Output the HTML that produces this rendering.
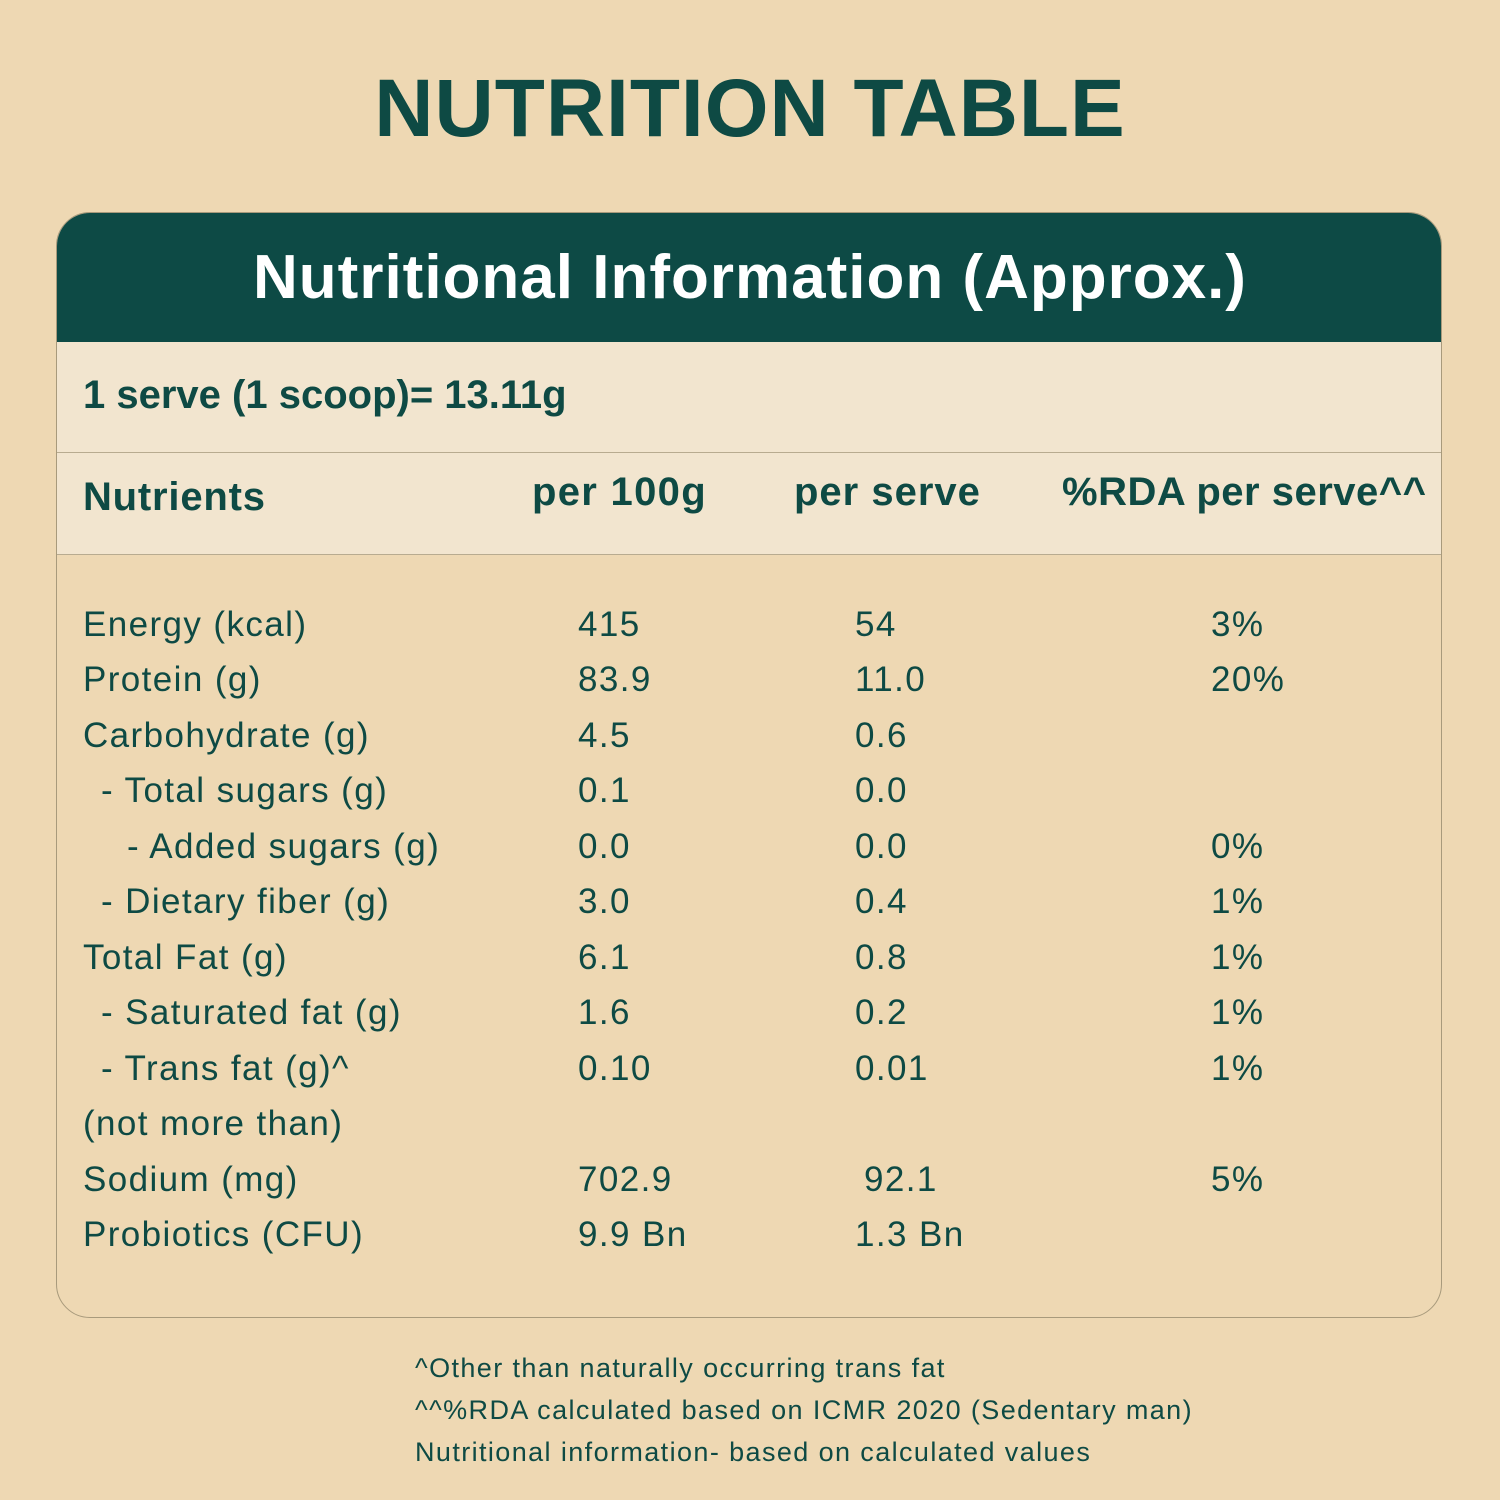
<!DOCTYPE html>
<html><head><meta charset="utf-8"><style>
body{margin:0;width:1500px;height:1500px;background:#eed8b3;font-family:"Liberation Sans",sans-serif;color:#0e4a44;position:relative;overflow:hidden}
.a{position:absolute;white-space:nowrap}
.card{position:absolute;left:56px;top:212px;width:1386px;height:1106px;border:1.5px solid #a89a7c;border-radius:34px;overflow:hidden;box-sizing:border-box}
.hd{position:absolute;left:0;top:0;width:100%;height:129px;background:#0d4a45}
.sv{position:absolute;left:0;top:129px;width:100%;height:110px;background:#f2e5cf;border-bottom:1px solid #b8ab90}
.nh{position:absolute;left:0;top:240px;width:100%;height:101px;background:#f2e5cf;border-bottom:1px solid #b8ab90}
.r{font-size:35px;line-height:40px;letter-spacing:1.4px}
</style></head><body>
<div class="a" style="left:0;width:1500px;text-align:center;top:62px;font-size:82px;font-weight:bold;letter-spacing:1px">NUTRITION TABLE</div>
<div class="card"><div class="hd"></div><div class="sv"></div><div class="nh"></div></div>
<div class="a" style="left:0;width:1500px;text-align:center;top:242px;font-size:62px;font-weight:bold;color:#fff;letter-spacing:1px">Nutritional Information (Approx.)</div>
<div class="a" style="left:83px;top:373px;font-size:40px;font-weight:bold">1 serve (1 scoop)= 13.11g</div>
<div class="a" style="left:83px;top:475px;font-size:40px;font-weight:bold;letter-spacing:0.8px">Nutrients</div>
<div class="a" style="left:532px;top:470px;font-size:40px;font-weight:bold;letter-spacing:1.3px">per 100g</div>
<div class="a" style="left:794px;top:470px;font-size:40px;font-weight:bold;letter-spacing:1px">per serve</div>
<div class="a" style="left:1062px;top:470px;font-size:40px;font-weight:bold;letter-spacing:0.5px">%RDA per serve^^</div>
<div class="a r" style="left:83px;top:605px">Energy (kcal)</div><div class="a r" style="left:578px;top:605px">415</div><div class="a r" style="left:855px;top:605px">54</div><div class="a r" style="left:1211px;top:605px">3%</div>
<div class="a r" style="left:83px;top:660px">Protein (g)</div><div class="a r" style="left:578px;top:660px">83.9</div><div class="a r" style="left:855px;top:660px">11.0</div><div class="a r" style="left:1211px;top:660px">20%</div>
<div class="a r" style="left:83px;top:716px">Carbohydrate (g)</div><div class="a r" style="left:578px;top:716px">4.5</div><div class="a r" style="left:855px;top:716px">0.6</div>
<div class="a r" style="left:101px;top:771px">- Total sugars (g)</div><div class="a r" style="left:578px;top:771px">0.1</div><div class="a r" style="left:855px;top:771px">0.0</div>
<div class="a r" style="left:127px;top:827px">- Added sugars (g)</div><div class="a r" style="left:578px;top:827px">0.0</div><div class="a r" style="left:855px;top:827px">0.0</div><div class="a r" style="left:1211px;top:827px">0%</div>
<div class="a r" style="left:101px;top:882px">- Dietary fiber (g)</div><div class="a r" style="left:578px;top:882px">3.0</div><div class="a r" style="left:855px;top:882px">0.4</div><div class="a r" style="left:1211px;top:882px">1%</div>
<div class="a r" style="left:83px;top:938px">Total Fat (g)</div><div class="a r" style="left:578px;top:938px">6.1</div><div class="a r" style="left:855px;top:938px">0.8</div><div class="a r" style="left:1211px;top:938px">1%</div>
<div class="a r" style="left:101px;top:993px">- Saturated fat (g)</div><div class="a r" style="left:578px;top:993px">1.6</div><div class="a r" style="left:855px;top:993px">0.2</div><div class="a r" style="left:1211px;top:993px">1%</div>
<div class="a r" style="left:101px;top:1049px">- Trans fat (g)^</div><div class="a r" style="left:578px;top:1049px">0.10</div><div class="a r" style="left:855px;top:1049px">0.01</div><div class="a r" style="left:1211px;top:1049px">1%</div>
<div class="a r" style="left:83px;top:1104px">(not more than)</div>
<div class="a r" style="left:83px;top:1160px">Sodium (mg)</div><div class="a r" style="left:578px;top:1160px">702.9</div><div class="a r" style="left:864px;top:1160px">92.1</div><div class="a r" style="left:1211px;top:1160px">5%</div>
<div class="a r" style="left:83px;top:1215px">Probiotics (CFU)</div><div class="a r" style="left:578px;top:1215px">9.9 Bn</div><div class="a r" style="left:855px;top:1215px">1.3 Bn</div>
<div class="a" style="left:415px;top:1347px;font-size:27px;line-height:42px;letter-spacing:1.4px">^Other than naturally occurring trans fat<br>^^%RDA calculated based on ICMR 2020 (Sedentary man)<br>Nutritional information- based on calculated values</div>
</body></html>
